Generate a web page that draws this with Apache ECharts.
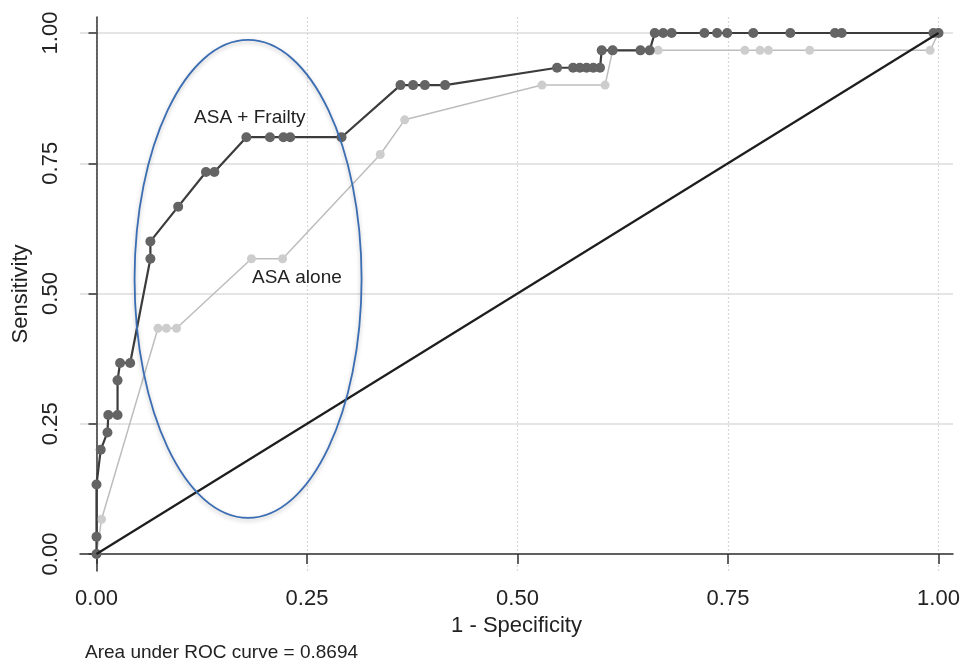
<!DOCTYPE html>
<html>
<head>
<meta charset="utf-8">
<script src="https://cdn.jsdelivr.net/npm/echarts@6/dist/echarts.min.js"></script>
<style>
html, body { margin: 0; padding: 0; background: #fff; }
#main { width: 966px; height: 663px; }
</style>
</head>
<body>
<div id="main"></div>
<script>
// ROC points (1 - specificity, sensitivity)
var frailtyX = [0, 0, 0, 0.005, 0.013, 0.014, 0.025, 0.025, 0.028, 0.04, 0.064, 0.064, 0.097, 0.13, 0.14,
  0.178, 0.206, 0.222, 0.23, 0.291, 0.361, 0.376, 0.39, 0.414, 0.547, 0.566, 0.574, 0.582, 0.59, 0.598,
  0.6, 0.613, 0.646, 0.657, 0.663, 0.673, 0.683, 0.722, 0.737, 0.749, 0.78, 0.824, 0.877, 0.885, 0.994, 1];
var frailtyY = [0, 0.0333, 0.1333, 0.2, 0.2333, 0.2667, 0.2667, 0.3333, 0.3667, 0.3667, 0.5667, 0.6, 0.6667, 0.7333, 0.7333,
  0.8, 0.8, 0.8, 0.8, 0.8, 0.9, 0.9, 0.9, 0.9, 0.9333, 0.9333, 0.9333, 0.9333, 0.9333, 0.9333,
  0.9667, 0.9667, 0.9667, 0.9667, 1, 1, 1, 1, 1, 1, 1, 1, 1, 1, 1, 1];

var aloneX = [0, 0.006, 0.073, 0.083, 0.095, 0.184, 0.221, 0.337, 0.366, 0.529, 0.604, 0.613, 0.667,
  0.77, 0.788, 0.798, 0.847, 0.99, 1];
var aloneY = [0, 0.0667, 0.4333, 0.4333, 0.4333, 0.5667, 0.5667, 0.7667, 0.8333, 0.9, 0.9, 0.9667, 0.9667,
  0.9667, 0.9667, 0.9667, 0.9667, 0.9667, 1];

var refX = [0, 1];
var refY = [0, 1];

var tickValues = [0, 0.25, 0.5, 0.75, 1];
var aucText = 'Area under ROC curve = 0.8694';

// ellipse annotation, data units
var ringCenter = [0.18, 0.528];
var ringRadius = [0.1348, 0.4587];

function pairs(xs, ys) {
  return xs.map(function (x, i) { return [x, ys[i]]; });
}

var font = 'Liberation Sans';
var myChart = echarts.init(document.getElementById('main'));

myChart.setOption({
  animation: false,
  backgroundColor: '#fff',
  textStyle: { fontFamily: font },
  grid: { left: 80, right: 13, top: 17, bottom: 92, containLabel: false },
  xAxis: {
    type: 'value',
    min: -0.0196,
    max: 1.0172,
    name: '1 - Specificity',
    nameLocation: 'middle',
    nameGap: 41,
    nameTextStyle: { fontSize: 22, color: '#222' },
    axisLine: { show: true, lineStyle: { color: '#333', width: 1.5 } },
    axisTick: { show: true, length: 10, customValues: tickValues, lineStyle: { color: '#333', width: 1.5 } },
    axisLabel: {
      customValues: tickValues, fontSize: 22, color: '#222', margin: 17,
      formatter: function (v) { return v.toFixed(2); }
    },
    splitLine: { show: true, lineStyle: { color: '#d8d8d8', type: [2, 2], width: 1.2 } }
  },
  yAxis: {
    type: 'value',
    min: -0.0326,
    max: 1.0307,
    name: 'Sensitivity',
    nameLocation: 'middle',
    nameRotate: 90,
    nameGap: 40,
    nameTextStyle: { fontSize: 22, color: '#222' },
    axisLine: { show: true, lineStyle: { color: '#333', width: 1.5 } },
    axisTick: { show: true, length: 8, customValues: tickValues, lineStyle: { color: '#333', width: 1.5 } },
    axisLabel: {
      customValues: tickValues, fontSize: 22, color: '#222', margin: 18, rotate: 90,
      formatter: function (v) { return v.toFixed(2); }
    },
    splitLine: { show: true, lineStyle: { color: '#dcdcdc', width: 1.5 } }
  },
  series: [{
    name: 'ASA alone',
    type: 'line',
    data: pairs(aloneX, aloneY),
    symbol: 'circle',
    symbolSize: 9,
    itemStyle: { color: '#cdcdcd' },
    lineStyle: { color: '#bdbdbd', width: 1.5 },
    z: 2
  }, {
    name: 'ASA + Frailty',
    type: 'line',
    data: pairs(frailtyX, frailtyY),
    symbol: 'circle',
    symbolSize: 10,
    itemStyle: { color: '#646464' },
    lineStyle: { color: '#3c3c3c', width: 2.2 },
    z: 3
  }, {
    name: 'Reference',
    type: 'line',
    data: pairs(refX, refY),
    symbol: 'none',
    lineStyle: { color: '#1e1e1e', width: 2.2 },
    z: 4
  }]
});

var c = myChart.convertToPixel({ gridIndex: 0 }, ringCenter);
var e = myChart.convertToPixel({ gridIndex: 0 }, [ringCenter[0] + ringRadius[0], ringCenter[1] + ringRadius[1]]);
var lblA = myChart.convertToPixel({ gridIndex: 0 }, [0.182, 0.837]);
var lblB = myChart.convertToPixel({ gridIndex: 0 }, [0.238, 0.53]);

myChart.setOption({
  graphic: [{
    type: 'ellipse',
    shape: { cx: c[0], cy: c[1], rx: e[0] - c[0], ry: c[1] - e[1] },
    style: {
      fill: 'none', stroke: '#3b6db3', lineWidth: 1.8,
      shadowBlur: 4, shadowColor: 'rgba(0,0,0,0.25)', shadowOffsetY: 2
    },
    z: 10
  }, {
    type: 'text',
    x: lblA[0], y: lblA[1],
    style: { text: 'ASA + Frailty', font: '19px "' + font + '"', fill: '#222', align: 'center', verticalAlign: 'middle' },
    z: 11
  }, {
    type: 'text',
    x: lblB[0], y: lblB[1],
    style: { text: 'ASA alone', font: '19px "' + font + '"', fill: '#222', align: 'center', verticalAlign: 'middle' },
    z: 11
  }, {
    type: 'text',
    left: 85, top: 643,
    style: { text: aucText, font: '19px "' + font + '"', fill: '#222' },
    z: 11
  }]
});
</script>
</body>
</html>
